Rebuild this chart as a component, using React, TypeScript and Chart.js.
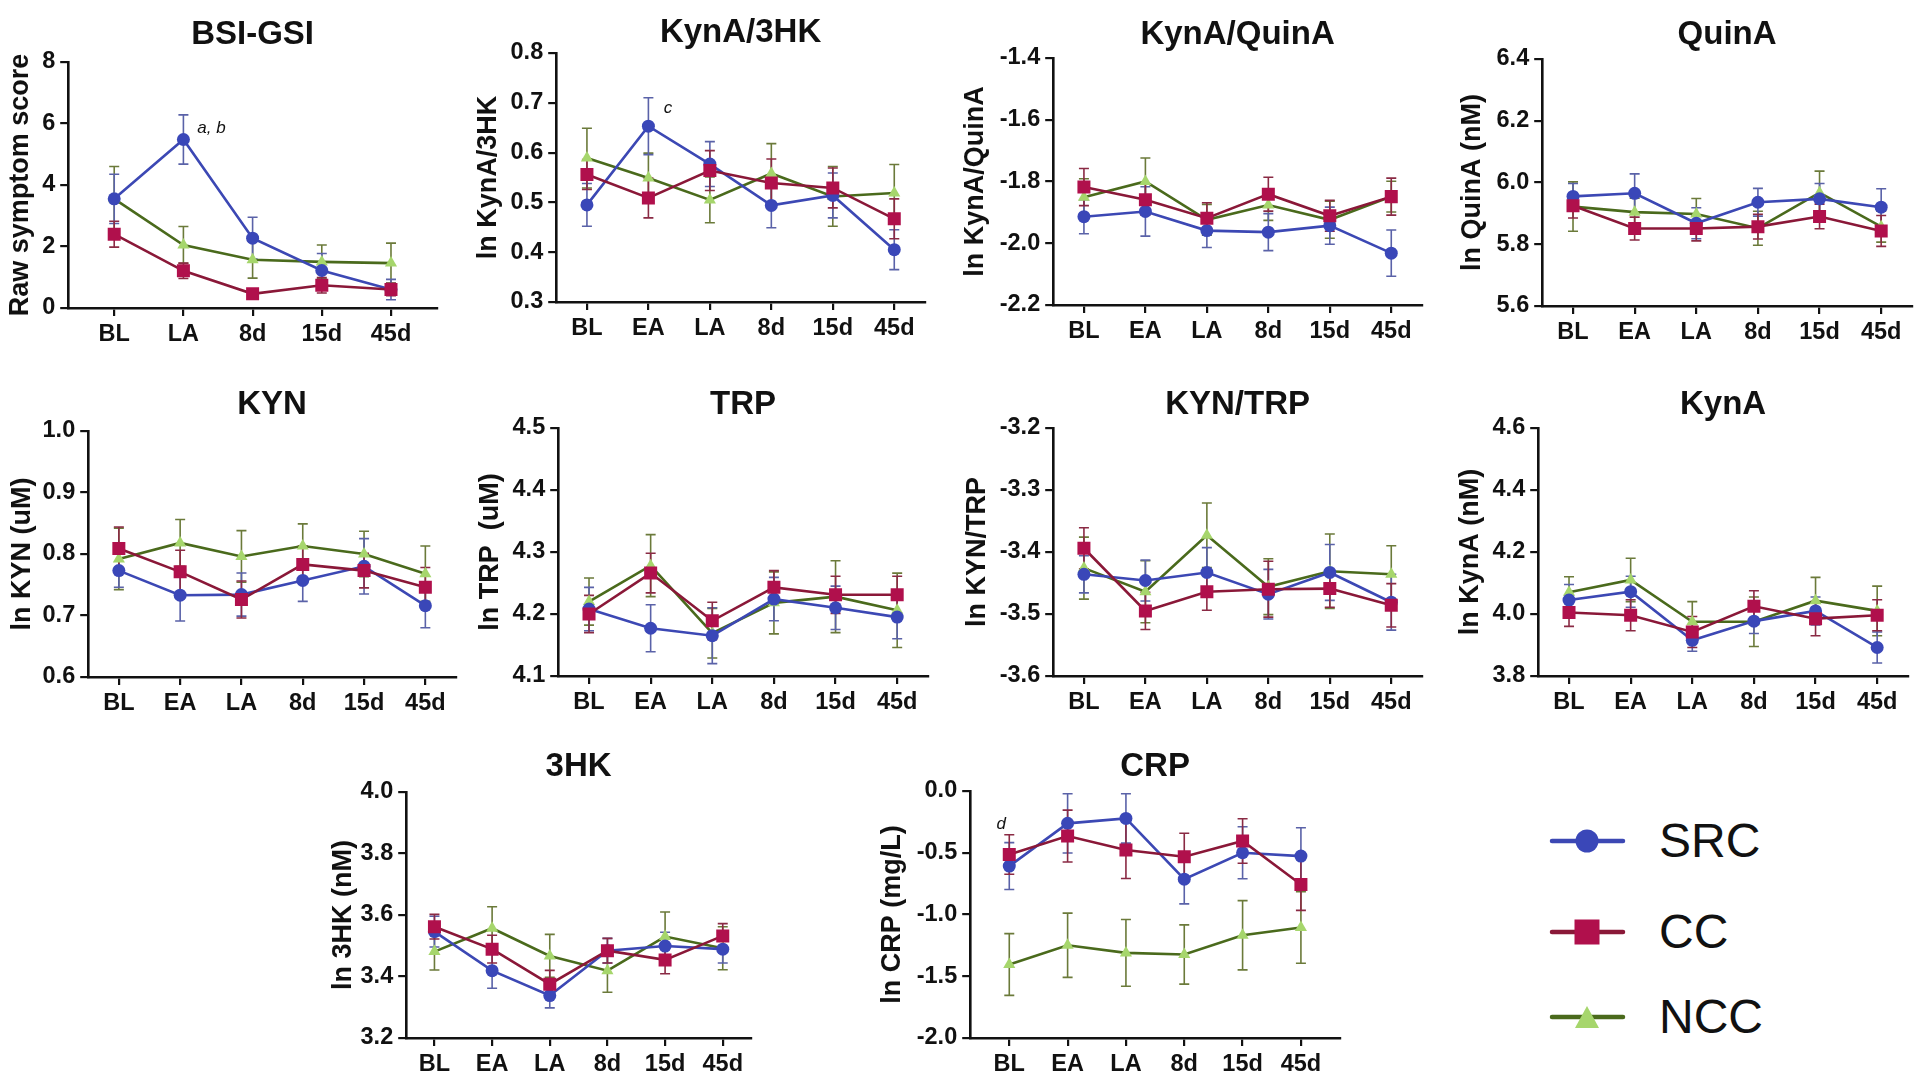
import React, { useEffect, useRef } from 'react';
import { Chart, registerables } from 'chart.js';
Chart.register(...registerables);

const FONT = '"Liberation Sans", Arial, Helvetica, sans-serif';
Chart.defaults.font.family = FONT;

// ---------- categories ----------
const CATS5 = ['BL', 'LA', '8d', '15d', '45d'];
const CATS6 = ['BL', 'EA', 'LA', '8d', '15d', '45d'];

// ---------- group names / colours ----------
const GROUPS = ['SRC', 'CC', 'NCC'];
const LINE_COLORS = { SRC: '#3c48b4', CC: '#8a1838', NCC: '#4a6a1c' };
const FILL_COLORS = { SRC: '#3a47b8', CC: '#b0104c', NCC: '#a6d66c' };
const ERR_COLORS = { SRC: '#5a62a8', CC: '#8a2a44', NCC: '#6b7a3a' };
const POINT_STYLE = { SRC: 'circle', CC: 'rect', NCC: 'triangle' };
const POINT_RADIUS = { SRC: 6.5, CC: 9.2, NCC: 7 };

// ---------- y tick labels ----------
const bsiTicks = [0, 2, 4, 6, 8];
const k3Ticks = [0.3, 0.4, 0.5, 0.6, 0.7, 0.8];
const kqTicks = [-2.2, -2.0, -1.8, -1.6, -1.4];
const qTicks = [5.6, 5.8, 6.0, 6.2, 6.4];
const kyTicks = [0.6, 0.7, 0.8, 0.9, 1.0];
const tTicks = [4.1, 4.2, 4.3, 4.4, 4.5];
const ktTicks = [-3.6, -3.5, -3.4, -3.3, -3.2];
const kaTicks = [3.8, 4.0, 4.2, 4.4, 4.6];
const hTicks = [3.2, 3.4, 3.6, 3.8, 4.0];
const cTicks = [-2.0, -1.5, -1.0, -0.5, 0.0];

// ---------- BSI-GSI ----------
const bsiSrc = [3.55, 5.48, 2.27, 1.22, 0.6];
const bsiSrcErr = [0.8, 0.8, 0.68, 0.55, 0.33];
const bsiCc = [2.4, 1.21, 0.46, 0.74, 0.6];
const bsiCcErr = [0.42, 0.25, 0.1, 0.25, 0.2];
const bsiNcc = [3.55, 2.05, 1.57, 1.5, 1.46];
const bsiNccErr = [1.05, 0.6, 0.6, 0.55, 0.65];

// ---------- KynA/3HK ----------
const k3Src = [0.495, 0.653, 0.577, 0.494, 0.514, 0.405];
const k3SrcErr = [0.043, 0.057, 0.045, 0.045, 0.045, 0.04];
const k3Cc = [0.556, 0.509, 0.564, 0.539, 0.529, 0.467];
const k3CcErr = [0.03, 0.04, 0.04, 0.048, 0.04, 0.04];
const k3Ncc = [0.589, 0.549, 0.505, 0.558, 0.512, 0.519];
const k3NccErr = [0.06, 0.05, 0.046, 0.06, 0.06, 0.057];

// ---------- KynA/QuinA ----------
const kqSrc = [-1.914, -1.897, -1.959, -1.964, -1.943, -2.032];
const kqSrcErr = [0.055, 0.08, 0.055, 0.06, 0.06, 0.075];
const kqCc = [-1.818, -1.859, -1.919, -1.841, -1.911, -1.849];
const kqCcErr = [0.06, 0.05, 0.05, 0.055, 0.05, 0.06];
const kqNcc = [-1.851, -1.8, -1.924, -1.876, -1.924, -1.849];
const kqNccErr = [0.06, 0.076, 0.05, 0.05, 0.06, 0.05];

// ---------- QuinA ----------
const qSrc = [5.955, 5.965, 5.868, 5.936, 5.947, 5.92];
const qSrcErr = [0.042, 0.063, 0.05, 0.045, 0.05, 0.06];
const qCc = [5.925, 5.851, 5.851, 5.857, 5.89, 5.843];
const qCcErr = [0.04, 0.037, 0.04, 0.04, 0.04, 0.05];
const qNcc = [5.922, 5.904, 5.898, 5.852, 5.967, 5.857];
const qNccErr = [0.08, 0.045, 0.05, 0.055, 0.07, 0.05];

// ---------- KYN ----------
const kySrc = [0.773, 0.733, 0.734, 0.757, 0.78, 0.716];
const kySrcErr = [0.027, 0.042, 0.035, 0.034, 0.045, 0.036];
const kyCc = [0.809, 0.771, 0.726, 0.783, 0.773, 0.746];
const kyCcErr = [0.035, 0.035, 0.03, 0.03, 0.028, 0.032];
const kyNcc = [0.792, 0.818, 0.796, 0.813, 0.8, 0.768];
const kyNccErr = [0.05, 0.038, 0.042, 0.036, 0.037, 0.045];

// ---------- TRP ----------
const tSrc = [4.208, 4.177, 4.165, 4.224, 4.21, 4.195];
const tSrcErr = [0.035, 0.038, 0.045, 0.035, 0.035, 0.035];
const tCc = [4.2, 4.266, 4.189, 4.243, 4.231, 4.231];
const tCcErr = [0.03, 0.032, 0.03, 0.027, 0.03, 0.03];
const tNcc = [4.22, 4.278, 4.169, 4.218, 4.228, 4.206];
const tNccErr = [0.038, 0.05, 0.04, 0.05, 0.058, 0.06];

// ---------- KYN/TRP ----------
const ktSrc = [-3.436, -3.446, -3.433, -3.468, -3.433, -3.481];
const ktSrcErr = [0.03, 0.033, 0.04, 0.04, 0.045, 0.045];
const ktCc = [-3.394, -3.495, -3.464, -3.46, -3.459, -3.486];
const ktCcErr = [0.033, 0.03, 0.03, 0.045, 0.03, 0.035];
const ktNcc = [-3.426, -3.464, -3.373, -3.456, -3.431, -3.436];
const ktNccErr = [0.05, 0.05, 0.052, 0.045, 0.06, 0.046];

// ---------- KynA ----------
const kaSrc = [4.045, 4.072, 3.915, 3.977, 4.01, 3.892];
const kaSrcErr = [0.05, 0.05, 0.035, 0.04, 0.045, 0.05];
const kaCc = [4.005, 3.996, 3.942, 4.025, 3.985, 3.996];
const kaCcErr = [0.045, 0.05, 0.05, 0.05, 0.055, 0.05];
const kaNcc = [4.07, 4.11, 3.975, 3.975, 4.043, 4.01];
const kaNccErr = [0.05, 0.07, 0.065, 0.08, 0.075, 0.08];

// ---------- 3HK ----------
const hSrc = [3.546, 3.419, 3.338, 3.484, 3.499, 3.489];
const hSrcErr = [0.05, 0.057, 0.04, 0.04, 0.045, 0.045];
const hCc = [3.562, 3.489, 3.375, 3.484, 3.454, 3.532];
const hCcErr = [0.04, 0.045, 0.045, 0.04, 0.045, 0.04];
const hNcc = [3.481, 3.557, 3.467, 3.419, 3.53, 3.492];
const hNccErr = [0.06, 0.07, 0.07, 0.07, 0.08, 0.07];

// ---------- CRP ----------
const cSrc = [-0.608, -0.262, -0.222, -0.714, -0.5, -0.527];
const cSrcErr = [0.19, 0.24, 0.2, 0.2, 0.21, 0.23];
const cCc = [-0.514, -0.365, -0.478, -0.532, -0.405, -0.757];
const cCcErr = [0.16, 0.21, 0.23, 0.19, 0.18, 0.21];
const cNcc = [-1.405, -1.249, -1.311, -1.324, -1.168, -1.105];
const cNccErr = [0.25, 0.26, 0.27, 0.24, 0.28, 0.29];

type Note = { text: string; x: number; y: number };
type Panel = {
  title: string; yTitle: string; cats: string[]; pad: number; yTicks: number[]; dec: number;
  src: number[]; srcErr: number[]; cc: number[]; ccErr: number[]; ncc: number[]; nccErr: number[];
  L: number; R: number; T: number; B: number; titleY: number; yTitleOff: number; notes: Note[];
};

const PANELS: Panel[] = [
  { title: 'BSI-GSI', yTitle: 'Raw symptom score', cats: CATS5, pad: 0.665, yTicks: bsiTicks, dec: 0,
    src: bsiSrc, srcErr: bsiSrcErr, cc: bsiCc, ccErr: bsiCcErr, ncc: bsiNcc, nccErr: bsiNccErr,
    L: 68, R: 437, T: 62, B: 308, titleY: 35, yTitleOff: 48, notes: [{ text: 'a, b', x: 1.2, y: 5.85 }] },
  { title: 'KynA/3HK', yTitle: 'ln KynA/3HK', cats: CATS6, pad: 0.5, yTicks: k3Ticks, dec: 1,
    src: k3Src, srcErr: k3SrcErr, cc: k3Cc, ccErr: k3CcErr, ncc: k3Ncc, nccErr: k3NccErr,
    L: 556, R: 925, T: 53, B: 302, titleY: 33, yTitleOff: 68, notes: [{ text: 'c', x: 1.25, y: 0.69 }] },
  { title: 'KynA/QuinA', yTitle: 'ln KynA/QuinA', cats: CATS6, pad: 0.5, yTicks: kqTicks, dec: 1,
    src: kqSrc, srcErr: kqSrcErr, cc: kqCc, ccErr: kqCcErr, ncc: kqNcc, nccErr: kqNccErr,
    L: 1053, R: 1422, T: 58, B: 305, titleY: 35, yTitleOff: 78, notes: [] },
  { title: 'QuinA', yTitle: 'ln QuinA (nM)', cats: CATS6, pad: 0.5, yTicks: qTicks, dec: 1,
    src: qSrc, srcErr: qSrcErr, cc: qCc, ccErr: qCcErr, ncc: qNcc, nccErr: qNccErr,
    L: 1542, R: 1912, T: 59, B: 306, titleY: 35, yTitleOff: 70, notes: [] },
  { title: 'KYN', yTitle: 'ln KYN (uM)', cats: CATS6, pad: 0.5, yTicks: kyTicks, dec: 1,
    src: kySrc, srcErr: kySrcErr, cc: kyCc, ccErr: kyCcErr, ncc: kyNcc, nccErr: kyNccErr,
    L: 88, R: 456, T: 431, B: 677, titleY: 405, yTitleOff: 66, notes: [] },
  { title: 'TRP', yTitle: 'ln TRP  (uM)', cats: CATS6, pad: 0.5, yTicks: tTicks, dec: 1,
    src: tSrc, srcErr: tSrcErr, cc: tCc, ccErr: tCcErr, ncc: tNcc, nccErr: tNccErr,
    L: 558, R: 928, T: 428, B: 676, titleY: 405, yTitleOff: 68, notes: [] },
  { title: 'KYN/TRP', yTitle: 'ln KYN/TRP', cats: CATS6, pad: 0.5, yTicks: ktTicks, dec: 1,
    src: ktSrc, srcErr: ktSrcErr, cc: ktCc, ccErr: ktCcErr, ncc: ktNcc, nccErr: ktNccErr,
    L: 1053, R: 1422, T: 428, B: 676, titleY: 405, yTitleOff: 76, notes: [] },
  { title: 'KynA', yTitle: 'ln KynA (nM)', cats: CATS6, pad: 0.5, yTicks: kaTicks, dec: 1,
    src: kaSrc, srcErr: kaSrcErr, cc: kaCc, ccErr: kaCcErr, ncc: kaNcc, nccErr: kaNccErr,
    L: 1538, R: 1908, T: 428, B: 676, titleY: 405, yTitleOff: 68, notes: [] },
  { title: '3HK', yTitle: 'ln 3HK (nM)', cats: CATS6, pad: 0.49, yTicks: hTicks, dec: 1,
    src: hSrc, srcErr: hSrcErr, cc: hCc, ccErr: hCcErr, ncc: hNcc, nccErr: hNccErr,
    L: 406, R: 751, T: 792, B: 1038, titleY: 767, yTitleOff: 63, notes: [] },
  { title: 'CRP', yTitle: 'ln CRP (mg/L)', cats: CATS6, pad: 0.67, yTicks: cTicks, dec: 1,
    src: cSrc, srcErr: cSrcErr, cc: cCc, ccErr: cCcErr, ncc: cNcc, nccErr: cNccErr,
    L: 970, R: 1340, T: 791, B: 1038, titleY: 767, yTitleOff: 78, notes: [{ text: 'd', x: -0.22, y: -0.27 }] },
];

const PAD_TOP = 60;
const PAD_RIGHT = 15;
const X_AXIS_H = 45;
const Y_TITLE_SIZE = 27;
const TICK_SIZE = 23.5;
const TITLE_SIZE = 33;

const errorBarPlugin = {
  id: 'errorBars',
  beforeDatasetsDraw(chart: any) {
    const ctx = chart.ctx;
    const xs = chart.scales.x;
    const ys = chart.scales.y;
    ctx.save();
    for (let d = chart.data.datasets.length - 1; d >= 0; d--) {
      const ds = chart.data.datasets[d];
      if (!ds.errors) continue;
      ctx.strokeStyle = ds.errColor;
      ctx.lineWidth = 1.6;
      ds.data.forEach((pt: any, i: number) => {
        const e = ds.errors[i];
        const x = xs.getPixelForValue(pt.x);
        const y1 = ys.getPixelForValue(pt.y + e);
        const y2 = ys.getPixelForValue(pt.y - e);
        ctx.beginPath();
        ctx.moveTo(x, y1); ctx.lineTo(x, y2);
        ctx.moveTo(x - 5, y1); ctx.lineTo(x + 5, y1);
        ctx.moveTo(x - 5, y2); ctx.lineTo(x + 5, y2);
        ctx.stroke();
      });
    }
    ctx.restore();
  },
};

const textPlugin = {
  id: 'panelText',
  afterDraw(chart: any, _args: any, opts: any) {
    const ctx = chart.ctx;
    const ca = chart.chartArea;
    ctx.save();
    ctx.fillStyle = '#111';
    ctx.font = `bold ${TITLE_SIZE}px ${FONT}`;
    ctx.textAlign = 'center';
    ctx.textBaseline = 'middle';
    ctx.fillText(opts.title, (ca.left + ca.right) / 2, ca.top - opts.titleGap);
    ctx.font = `italic 17px ${FONT}`;
    ctx.textAlign = 'left';
    (opts.notes || []).forEach((n: Note) => {
      ctx.fillText(n.text, chart.scales.x.getPixelForValue(n.x), chart.scales.y.getPixelForValue(n.y));
    });
    ctx.restore();
  },
};

function PanelChart({ p }: { p: Panel }) {
  const ref = useRef<HTMLCanvasElement | null>(null);
  const W = p.yTitleOff + Y_TITLE_SIZE * 0.6;
  const left = p.L - W;
  const top = p.T - PAD_TOP;
  const width = Math.round(W + (p.R - p.L) + PAD_RIGHT);
  const height = Math.round(PAD_TOP + (p.B - p.T) + X_AXIS_H);

  useEffect(() => {
    if (!ref.current) return;
    const series: Record<string, [number[], number[]]> = {
      SRC: [p.src, p.srcErr], CC: [p.cc, p.ccErr], NCC: [p.ncc, p.nccErr],
    };
    const order = ['CC', 'SRC', 'NCC'];
    const datasets = order.map((g) => ({
      label: g,
      data: series[g][0].map((v, i) => ({ x: i, y: v })),
      errors: series[g][1],
      errColor: (ERR_COLORS as any)[g],
      borderColor: (LINE_COLORS as any)[g],
      backgroundColor: (FILL_COLORS as any)[g],
      pointBackgroundColor: (FILL_COLORS as any)[g],
      pointBorderColor: (FILL_COLORS as any)[g],
      pointBorderWidth: 0,
      pointStyle: (POINT_STYLE as any)[g],
      pointRadius: (POINT_RADIUS as any)[g],
      borderWidth: 2.6,
      tension: 0,
      fill: false,
    }));
    const yMin = p.yTicks[0];
    const yMax = p.yTicks[p.yTicks.length - 1];
    const axisGrid = { drawOnChartArea: false, drawTicks: true, tickLength: 8, tickWidth: 2.2, tickColor: '#111', color: '#111', lineWidth: 2.2 };
    const axisBorder = { display: true, color: '#111', width: 2.6 };
    const chart = new Chart(ref.current, {
      type: 'line',
      data: { datasets } as any,
      options: {
        responsive: false,
        animation: false,
        devicePixelRatio: 1,
        layout: { padding: { top: PAD_TOP, left: 0, right: PAD_RIGHT, bottom: 0 } },
        plugins: {
          legend: { display: false },
          tooltip: { enabled: false },
          title: { display: false },
          panelText: { title: p.title, titleGap: p.T - p.titleY, notes: p.notes },
        } as any,
        scales: {
          x: {
            type: 'linear',
            bounds: 'data',
            min: -p.pad,
            max: p.cats.length - 1 + p.pad,
            afterBuildTicks: (s: any) => { s.ticks = p.cats.map((_, i) => ({ value: i })); },
            afterFit: (s: any) => { s.height = X_AXIS_H; },
            ticks: {
              callback: (v: any) => p.cats[Math.round(Number(v))],
              font: { size: TICK_SIZE, weight: 'bold' },
              color: '#111', padding: 4, autoSkip: false, maxRotation: 0,
            },
            grid: axisGrid,
            border: axisBorder,
          },
          y: {
            type: 'linear',
            bounds: 'data',
            min: yMin,
            max: yMax,
            afterBuildTicks: (s: any) => { s.ticks = p.yTicks.map((v) => ({ value: v })); },
            afterFit: (s: any) => { s.width = W; },
            ticks: {
              callback: (v: any) => Number(v).toFixed(p.dec),
              font: { size: TICK_SIZE, weight: 'bold' },
              color: '#111', padding: 5,
            },
            title: {
              display: true, text: p.yTitle, color: '#111', padding: 0,
              font: { size: Y_TITLE_SIZE, weight: 'bold', lineHeight: 1.2 },
            },
            grid: axisGrid,
            border: axisBorder,
          },
        } as any,
      } as any,
      plugins: [errorBarPlugin, textPlugin] as any,
    });
    return () => chart.destroy();
  }, []);

  return (
    <canvas
      ref={ref}
      width={width}
      height={height}
      style={{ position: 'absolute', left, top, width, height }}
    />
  );
}

const LEGEND_Y = [841, 932, 1017];

function Legend() {
  const ox = 1540;
  const oy = 800;
  return (
    <>
      <svg
        width={100}
        height={250}
        style={{ position: 'absolute', left: ox, top: oy }}
      >
        {GROUPS.map((g, i) => {
          const y = LEGEND_Y[i] - oy;
          return (
            <g key={g}>
              <line x1={12} x2={83} y1={y} y2={y} stroke={(LINE_COLORS as any)[g]} strokeWidth={4.5} strokeLinecap="round" />
              {g === 'SRC' && <circle cx={47} cy={y} r={11.5} fill={(FILL_COLORS as any)[g]} />}
              {g === 'CC' && <rect x={47 - 12.5} y={y - 12.5} width={25} height={25} fill={(FILL_COLORS as any)[g]} />}
              {g === 'NCC' && <polygon points={`47,${y - 11} 35,${y + 11} 59,${y + 11}`} fill={(FILL_COLORS as any)[g]} />}
            </g>
          );
        })}
      </svg>
      {GROUPS.map((g, i) => (
        <div
          key={g}
          style={{
            position: 'absolute', left: 1659, top: LEGEND_Y[i] - 28,
            fontFamily: FONT, fontSize: 48, lineHeight: '56px', color: '#111', whiteSpace: 'nowrap',
          }}
        >
          {g}
        </div>
      ))}
    </>
  );
}

export default function App() {
  return (
    <div style={{ position: 'fixed', left: 0, top: 0, width: 1920, height: 1086, background: '#fff', overflow: 'hidden' }}>
      {PANELS.map((p) => (
        <PanelChart key={p.title} p={p} />
      ))}
      <Legend />
    </div>
  );
}
